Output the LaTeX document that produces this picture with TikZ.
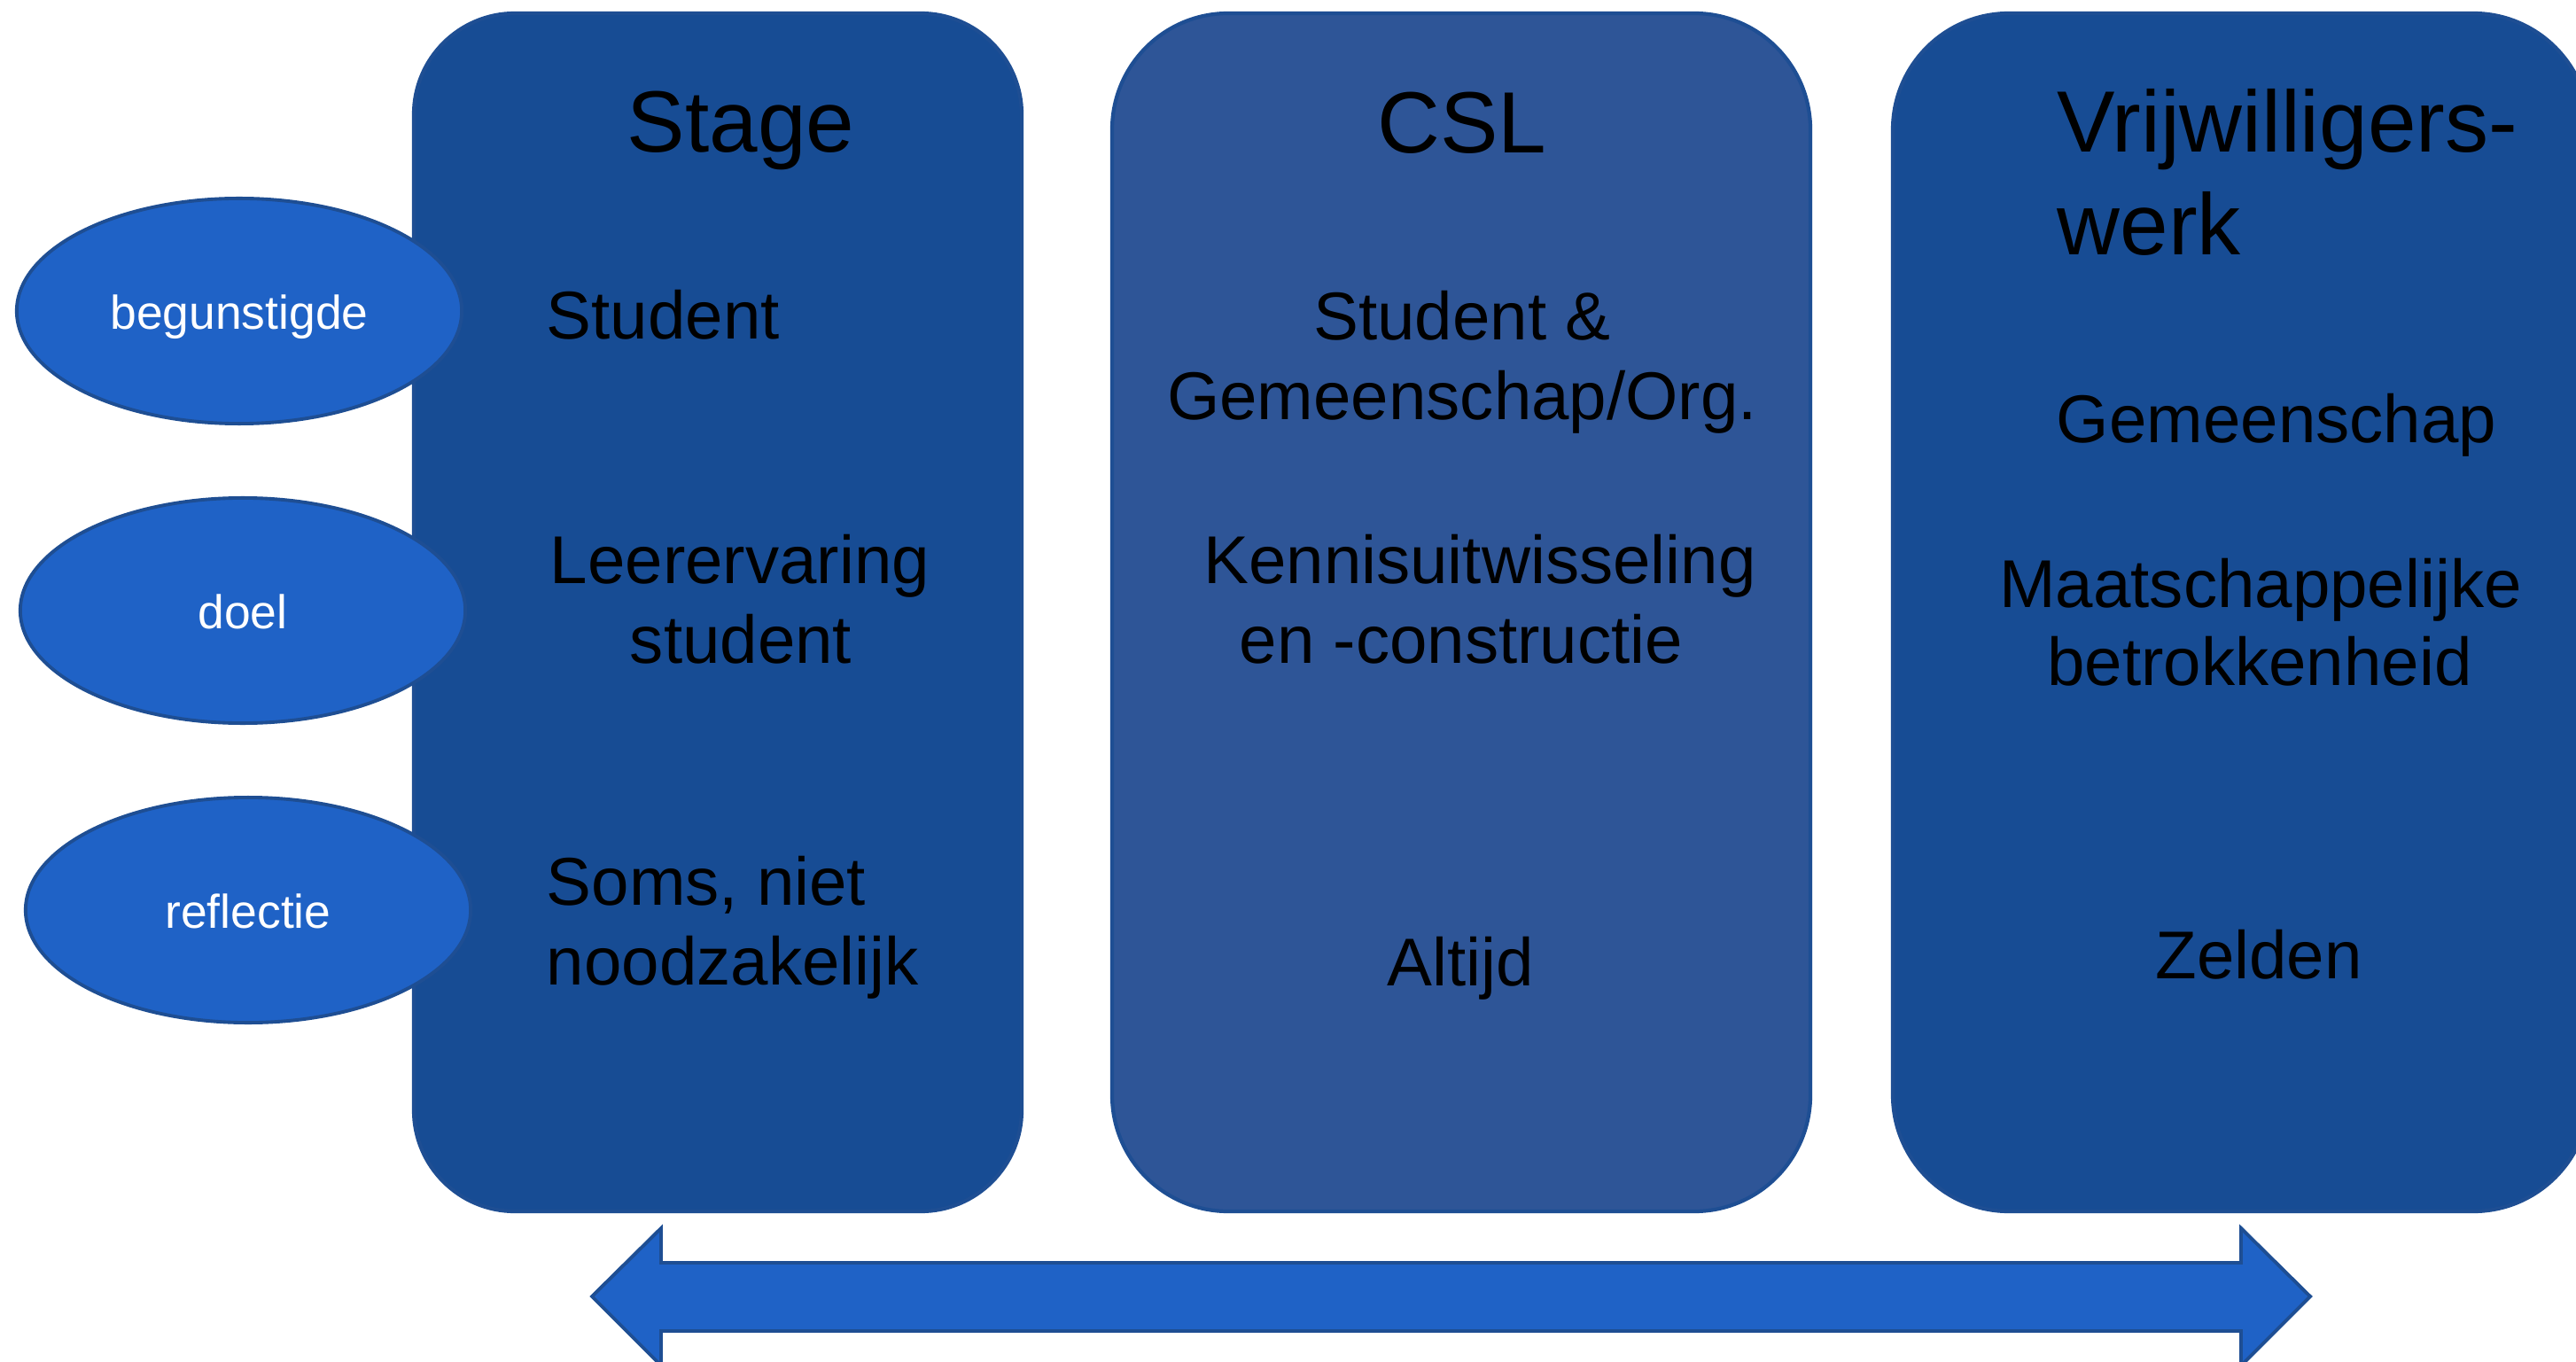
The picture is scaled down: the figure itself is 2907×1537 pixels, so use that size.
\documentclass[tikz,border=0pt]{standalone}
\usepackage{fontspec}
\usetikzlibrary{shapes.geometric}
\newfontfamily\arialf{Liberation Sans}
\newcommand\ttlfont{\arialf\fontsize{27.9pt}{33pt}\selectfont}
\newcommand\bodyfont{\arialf\fontsize{21.7pt}{26pt}\selectfont}
\newcommand\ellfont{\arialf\fontsize{15.2pt}{18pt}\selectfont}
\definecolor{boxA}{HTML}{174C94}
\definecolor{boxB}{HTML}{2E5597}
\definecolor{lightb}{HTML}{1F62C6}
\definecolor{edgeb}{HTML}{1E4E93}
\tikzset{
  colbox/.style={line width=1.2pt, draw=edgeb},
  ell/.style={ellipse, fill=lightb, draw=edgeb, line width=1.1pt, minimum width=5.02cm, minimum height=2.54cm, inner sep=0pt},
  elltxt/.style={font=\ellfont, text=white, inner sep=0pt, anchor=base},
  ttl/.style={font=\ttlfont, text=black, inner sep=0pt},
  bod/.style={font=\bodyfont, text=black, inner sep=0pt}
}
\begin{document}
\begin{tikzpicture}[x=0.01cm, y=-0.01cm]
\useasboundingbox (0,0) rectangle (2907,1537);
\clip (0,0) rectangle (2907,1537);
\fill[white] (0,0) rectangle (2907,1537);
% columns
\path[colbox, fill=boxA, rounded corners=1.14cm] (467,15) rectangle (1153,1367);
\path[colbox, fill=boxB, rounded corners=1.31cm] (1255,15) rectangle (2043,1367);
\path[colbox, fill=boxA, rounded corners=1.31cm] (2136,15) rectangle (2922,1367);
% ellipses
\node[ell] (e1) at (270,351) {};
\node[ell] (e2) at (274,689) {};
\node[ell] (e3) at (280,1027) {};
\node[elltxt] (t1) at (270,372) {begunstigde};
\node[elltxt] (t2) at (274,709) {doel};
\node[elltxt] (t3) at (280,1047) {reflectie};
% Stage column
\node[ttl, anchor=base] (h1) at (836,172) {Stage};
\node[bod, anchor=base west] (a1) at (616,383) {Student};
\node[bod, anchor=base] (a2) at (835,658) {Leerervaring};
\node[bod, anchor=base] (a3) at (836,748) {student};
\node[bod, anchor=base west] (a4) at (616,1021) {Soms, niet};
\node[bod, anchor=base west] (a5) at (616,1111) {noodzakelijk};
% CSL column
\node[ttl, anchor=base] (h2) at (1650,173) {CSL};
\node[bod, anchor=base] (b1) at (1650,384) {Student \&};
\node[bod, anchor=base] (b2) at (1650,474) {Gemeenschap/Org.};
\node[bod, anchor=base] (b3) at (1670,658) {Kennisuitwisseling};
\node[bod, anchor=base] (b4) at (1649,748) {en -constructie};
\node[bod, anchor=base] (b5) at (1648,1112) {Altijd};
% Vrijwilligerswerk column
\node[ttl, anchor=base west] (h3) at (2321,172) {Vrijwilligers-};
\node[ttl, anchor=base west] (h3b) at (2321,288) {werk};
\node[bod, anchor=base] (c1) at (2569,500) {Gemeenschap};
\node[bod, anchor=base] (c2) at (2551,685) {Maatschappelijke};
\node[bod, anchor=base] (c3) at (2550,773) {betrokkenheid};
\node[bod, anchor=base] (c4) at (2549,1104) {Zelden};
% double arrow
\path[fill=lightb, draw=edgeb, line width=1.1pt, line join=miter]
  (668,1463) -- (746,1386) -- (746,1425) -- (2529,1425) -- (2529,1386)
  -- (2607,1463) -- (2529,1541) -- (2529,1502) -- (746,1502) -- (746,1541) -- cycle;
\end{tikzpicture}
\end{document}
